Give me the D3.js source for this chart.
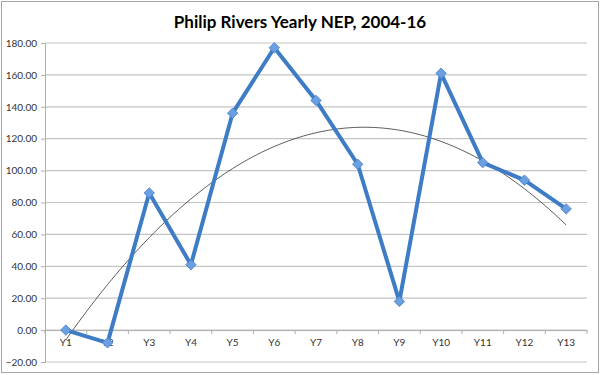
<!DOCTYPE html>
<html>
<head>
<meta charset="utf-8">
<script src="https://cdn.jsdelivr.net/npm/d3@7"></script>
<style>
  body { margin: 0; background: #fff; }
  text { font-family: Lato, "Open Sans", sans-serif; }
</style>
</head>
<body>
<div id="chart"></div>
<script>
// data
var years = ["Y1","Y2","Y3","Y4","Y5","Y6","Y7","Y8","Y9","Y10","Y11","Y12","Y13"];
var nep = [0, -8, 86, 41, 136, 177, 144, 104, 18, 161, 105, 94, 76];
var yTicks = [-20, 0, 20, 40, 60, 80, 100, 120, 140, 160, 180];

var W = 600, H = 375;
var margin = {top: 43, right: 13, bottom: 13, left: 45},
    width = W - margin.left - margin.right,
    height = 362 - margin.top;

var svg = d3.select("#chart").append("svg")
  .attr("width", W).attr("height", H);

// chart border
svg.append("rect")
  .attr("x", 1.5).attr("y", 1.5)
  .attr("width", W - 3).attr("height", 371)
  .attr("fill", "#fff").attr("stroke", "#a6a6a6");

svg.append("text")
  .attr("x", 300).attr("y", 28)
  .attr("text-anchor", "middle")
  .style("font-size", "17px").style("font-weight", "bold")
  .text("Philip Rivers Yearly NEP, 2004-16");

var g = svg.append("g")
  .attr("transform", "translate(" + margin.left + "," + margin.top + ")");

var x = d3.scaleBand().domain(years).range([0, width]);
var y = d3.scaleLinear().domain([-20, 180]).range([height, 0]);

// gridlines
g.append("g").selectAll("line")
  .data(yTicks).enter().append("line")
    .attr("x1", 0).attr("x2", width)
    .attr("y1", function(d) { return y(d); })
    .attr("y2", function(d) { return y(d); })
    .attr("stroke", "#c4c4c4").attr("stroke-width", 1.2);

// y axis
var yAxis = g.append("g")
  .call(d3.axisLeft(y).tickValues(yTicks).tickSize(4).tickFormat(d3.format(".2f")));
yAxis.select(".domain").attr("stroke", "#b0b0b0");
yAxis.selectAll(".tick line").attr("stroke", "#b0b0b0");
yAxis.selectAll("text").style("font-size", "10px").attr("fill", "#333").attr("x", -8);

// x axis sits at zero
var xAxis = g.append("g")
  .attr("transform", "translate(0," + y(0) + ")")
  .call(d3.axisBottom(x).tickSize(0).tickPadding(9));
xAxis.select(".domain").attr("stroke", "#b0b0b0");
xAxis.selectAll("text").style("font-size", "10px").attr("fill", "#333");
// tick marks between categories
xAxis.selectAll("line.sep")
  .data(d3.range(years.length + 1)).enter().append("line")
    .attr("class", "sep")
    .attr("x1", function(i) { return i * x.step(); })
    .attr("x2", function(i) { return i * x.step(); })
    .attr("y1", 0).attr("y2", 4)
    .attr("stroke", "#b0b0b0");

// polynomial (order 2) trendline, least squares on the data
var n = nep.length, S = [0,0,0,0,0], T = [0,0,0];
nep.forEach(function(v, i) {
  var t = i + 1;
  for (var k = 0; k < 5; k++) S[k] += Math.pow(t, k);
  for (var k = 0; k < 3; k++) T[k] += v * Math.pow(t, k);
});
function det3(m) {
  return m[0][0]*(m[1][1]*m[2][2]-m[1][2]*m[2][1])
       - m[0][1]*(m[1][0]*m[2][2]-m[1][2]*m[2][0])
       + m[0][2]*(m[1][0]*m[2][1]-m[1][1]*m[2][0]);
}
var M = [[S[0],S[1],S[2]],[S[1],S[2],S[3]],[S[2],S[3],S[4]]];
var D = det3(M), coef = [];
for (var c = 0; c < 3; c++) {
  var Mc = M.map(function(row, r) { var rr = row.slice(); rr[c] = T[r]; return rr; });
  coef.push(det3(Mc) / D);
}
var trendX = d3.range(1, 13.001, 0.1);
var xPos = function(t) { return x(years[0]) + x.bandwidth() / 2 + (t - 1) * x.step(); };
g.append("path")
  .datum(trendX)
  .attr("fill", "none").attr("stroke", "#333").attr("stroke-width", 0.8)
  .attr("d", d3.line()
    .x(function(t) { return xPos(t); })
    .y(function(t) { return y(coef[0] + coef[1]*t + coef[2]*t*t); }));

// main line
g.append("path")
  .datum(nep)
  .attr("fill", "none").attr("stroke", "#3e7cc6").attr("stroke-width", 4)
  .attr("stroke-linejoin", "round")
  .attr("d", d3.line()
    .x(function(d, i) { return x(years[i]) + x.bandwidth() / 2; })
    .y(function(d) { return y(d); }));

// diamond markers
g.append("g").selectAll("path")
  .data(nep).enter().append("path")
    .attr("transform", function(d, i) {
      return "translate(" + (x(years[i]) + x.bandwidth() / 2) + "," + y(d) + ")";
    })
    .attr("d", d3.symbol().type(d3.symbolDiamond2).size(70))
    .attr("fill", "#6a9fe2").attr("stroke", "#4a82c9").attr("stroke-width", 0.8);
</script>
</body>
</html>
